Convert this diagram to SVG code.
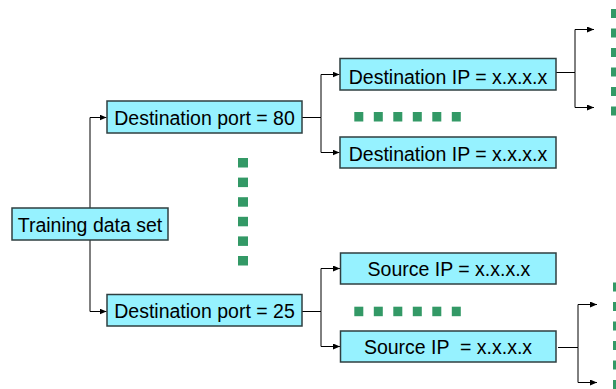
<svg xmlns="http://www.w3.org/2000/svg" width="616" height="389" viewBox="0 0 616 389">
  <style>
    .box { fill: #96F2FF; stroke: #2F3F40; stroke-width: 1.5; }
    .lbl { font-family: "Liberation Sans", Arial, sans-serif; font-size: 19.5px; fill: #000; text-anchor: middle; }
    .wire { fill: none; stroke: #000; stroke-width: 1; }
    .dot { fill: #339966; }
  </style>
  <defs>
    <marker id="tip" markerUnits="userSpaceOnUse" markerWidth="7" markerHeight="6" refX="7" refY="3" orient="auto">
      <path d="M0,0 L7,3 L0,6 z" fill="#000"/>
    </marker>
  </defs>

  <rect width="616" height="389" fill="#fff"/>

  <!-- connectors -->
  <g id="connectors">
    <path class="wire" d="M90,208 V117.5 H106.5" marker-end="url(#tip)"/>
    <path class="wire" d="M90,240 V311.5 H106.5" marker-end="url(#tip)"/>
    <path class="wire" d="M302,117.5 H321 V74.5 H339.5" marker-end="url(#tip)"/>
    <path class="wire" d="M321,117.5 V152.5 H339.5" marker-end="url(#tip)"/>
    <path class="wire" d="M302,311.5 H321 V268.5 H340" marker-end="url(#tip)"/>
    <path class="wire" d="M321,311.5 V346.5 H340" marker-end="url(#tip)"/>
    <path class="wire" d="M556,72.5 H575 V29.5 H594" marker-end="url(#tip)"/>
    <path class="wire" d="M575,72.5 V107.5 H594" marker-end="url(#tip)"/>
    <path class="wire" d="M558,347.5 H578 V304.5 H597" marker-end="url(#tip)"/>
    <path class="wire" d="M578,347.5 V382.5 H597" marker-end="url(#tip)"/>
  </g>

  <!-- nodes -->
  <g id="training">
    <rect class="box" x="12" y="208" width="156" height="32"/>
    <text class="lbl" x="90" y="231.5">Training data set</text>
  </g>
  <g id="port80">
    <rect class="box" x="107" y="101" width="195" height="32"/>
    <text class="lbl" x="204.5" y="124.5">Destination port = 80</text>
  </g>
  <g id="port25">
    <rect class="box" x="107" y="294.5" width="195" height="31.5"/>
    <text class="lbl" x="204.5" y="318">Destination port = 25</text>
  </g>
  <g id="dstip1">
    <rect class="box" x="340" y="58.5" width="216" height="31.5"/>
    <text class="lbl" x="448" y="84">Destination IP = x.x.x.x</text>
  </g>
  <g id="dstip2">
    <rect class="box" x="340" y="137" width="216" height="31"/>
    <text class="lbl" x="448" y="160.5">Destination IP = x.x.x.x</text>
  </g>
  <g id="srcip1">
    <rect class="box" x="340.5" y="253" width="215.5" height="31"/>
    <text class="lbl" x="449" y="276">Source IP = x.x.x.x</text>
  </g>
  <g id="srcip2">
    <rect class="box" x="340.5" y="331" width="215.5" height="31"/>
    <text class="lbl" x="448" y="354" xml:space="preserve">Source IP  = x.x.x.x</text>
  </g>

  <!-- ellipsis marks -->
  <g id="ellipses">
    <rect class="dot" x="238" y="158" width="10" height="9.5"/>
    <rect class="dot" x="238" y="177.6" width="10" height="9.5"/>
    <rect class="dot" x="238" y="197.2" width="10" height="9.5"/>
    <rect class="dot" x="238" y="216.8" width="10" height="9.5"/>
    <rect class="dot" x="238" y="236.4" width="10" height="9.5"/>
    <rect class="dot" x="238" y="256" width="10" height="9.5"/>

    <rect class="dot" x="354.3" y="112" width="9" height="9.5"/>
    <rect class="dot" x="373.8" y="112" width="9" height="9.5"/>
    <rect class="dot" x="393.3" y="112" width="9" height="9.5"/>
    <rect class="dot" x="412.8" y="112" width="9" height="9.5"/>
    <rect class="dot" x="432.3" y="112" width="9" height="9.5"/>
    <rect class="dot" x="451.8" y="112" width="9" height="9.5"/>

    <rect class="dot" x="354.3" y="306.7" width="9" height="9.5"/>
    <rect class="dot" x="373.8" y="306.7" width="9" height="9.5"/>
    <rect class="dot" x="393.3" y="306.7" width="9" height="9.5"/>
    <rect class="dot" x="412.8" y="306.7" width="9" height="9.5"/>
    <rect class="dot" x="432.3" y="306.7" width="9" height="9.5"/>
    <rect class="dot" x="451.8" y="306.7" width="9" height="9.5"/>

    <rect class="dot" x="611" y="9" width="9" height="9"/>
    <rect class="dot" x="611" y="28.5" width="9" height="9"/>
    <rect class="dot" x="611" y="48" width="9" height="9"/>
    <rect class="dot" x="611" y="67.5" width="9" height="9"/>
    <rect class="dot" x="611" y="87" width="9" height="9"/>
    <rect class="dot" x="611" y="106.5" width="9" height="9"/>

    <rect class="dot" x="613" y="282.5" width="9" height="9"/>
    <rect class="dot" x="613" y="302" width="9" height="9"/>
    <rect class="dot" x="613" y="321.5" width="9" height="9"/>
    <rect class="dot" x="613" y="341" width="9" height="9"/>
    <rect class="dot" x="613" y="360.5" width="9" height="9"/>
    <rect class="dot" x="613" y="380" width="9" height="9"/>
  </g>
</svg>
